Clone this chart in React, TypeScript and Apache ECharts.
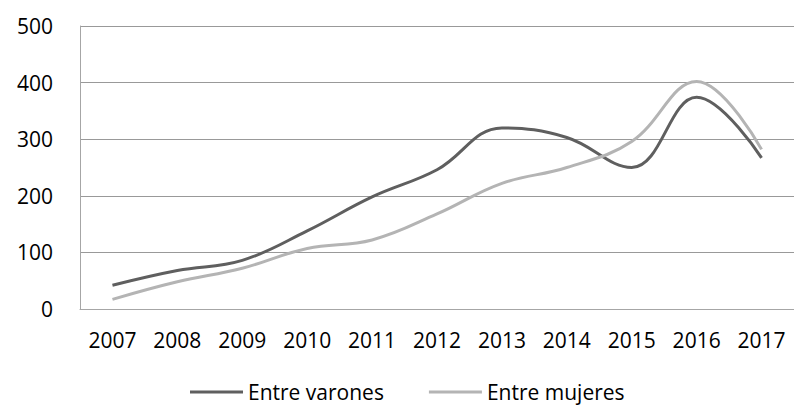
import React, { useEffect, useRef } from "react";
import * as echarts from "echarts";

const years = ["2007", "2008", "2009", "2010", "2011", "2012", "2013", "2014", "2015", "2016", "2017"];
const varones = [42, 68, 86, 138, 198, 246, 320, 303, 250, 374, 267];
const mujeres = [17, 48, 72, 107, 122, 168, 222, 250, 296, 402, 282];
const yTicks = [0, 100, 200, 300, 400, 500];

export default function App() {
  const ref = useRef<HTMLDivElement>(null);
  useEffect(() => {
    const chart = echarts.init(ref.current!, null, { renderer: "svg" });
    const font = "'Open Sans', Lato, sans-serif";
    chart.setOption({
      animation: false,
      textStyle: { fontFamily: font },
      grid: { left: 80, right: 0, top: 26, bottom: 101, containLabel: false },
      legend: {
        top: 380,
        left: 190,
        padding: 0,
        itemWidth: 53,
        itemHeight: 3,
        itemGap: 45,
        icon: "rect",
        textStyle: { fontFamily: font, fontSize: 21, lineHeight: 24, color: "#000" },
        data: ["Entre varones", "Entre mujeres"],
      },
      xAxis: {
        type: "category",
        data: years,
        boundaryGap: true,
        axisLine: { show: true, lineStyle: { color: "#a6a6a6", width: 1 } },
        axisTick: { show: false },
        axisLabel: { color: "#000", fontSize: 21, fontFamily: font, margin: 20 },
      },
      yAxis: {
        type: "value",
        min: yTicks[0],
        max: yTicks[yTicks.length - 1],
        interval: 100,
        axisLine: { show: true, lineStyle: { color: "#a6a6a6", width: 1 } },
        axisTick: { show: false },
        axisLabel: { color: "#000", fontSize: 21, fontFamily: font, margin: 27 },
        splitLine: { show: true, lineStyle: { color: "#999999", width: 1 } },
      },
      series: [
        {
          name: "Entre varones",
          type: "line",
          data: varones,
          smooth: 0.4,
          symbol: "none",
          lineStyle: { color: "#5f5f5f", width: 3 },
          itemStyle: { color: "#5f5f5f" },
        },
        {
          name: "Entre mujeres",
          type: "line",
          data: mujeres,
          smooth: 0.4,
          symbol: "none",
          lineStyle: { color: "#b4b4b4", width: 3 },
          itemStyle: { color: "#b4b4b4" },
        },
      ],
    });
    return () => chart.dispose();
  }, []);
  return <div ref={ref} style={{ width: 794, height: 410, position: "absolute", left: 0, top: 0 }} />;
}
